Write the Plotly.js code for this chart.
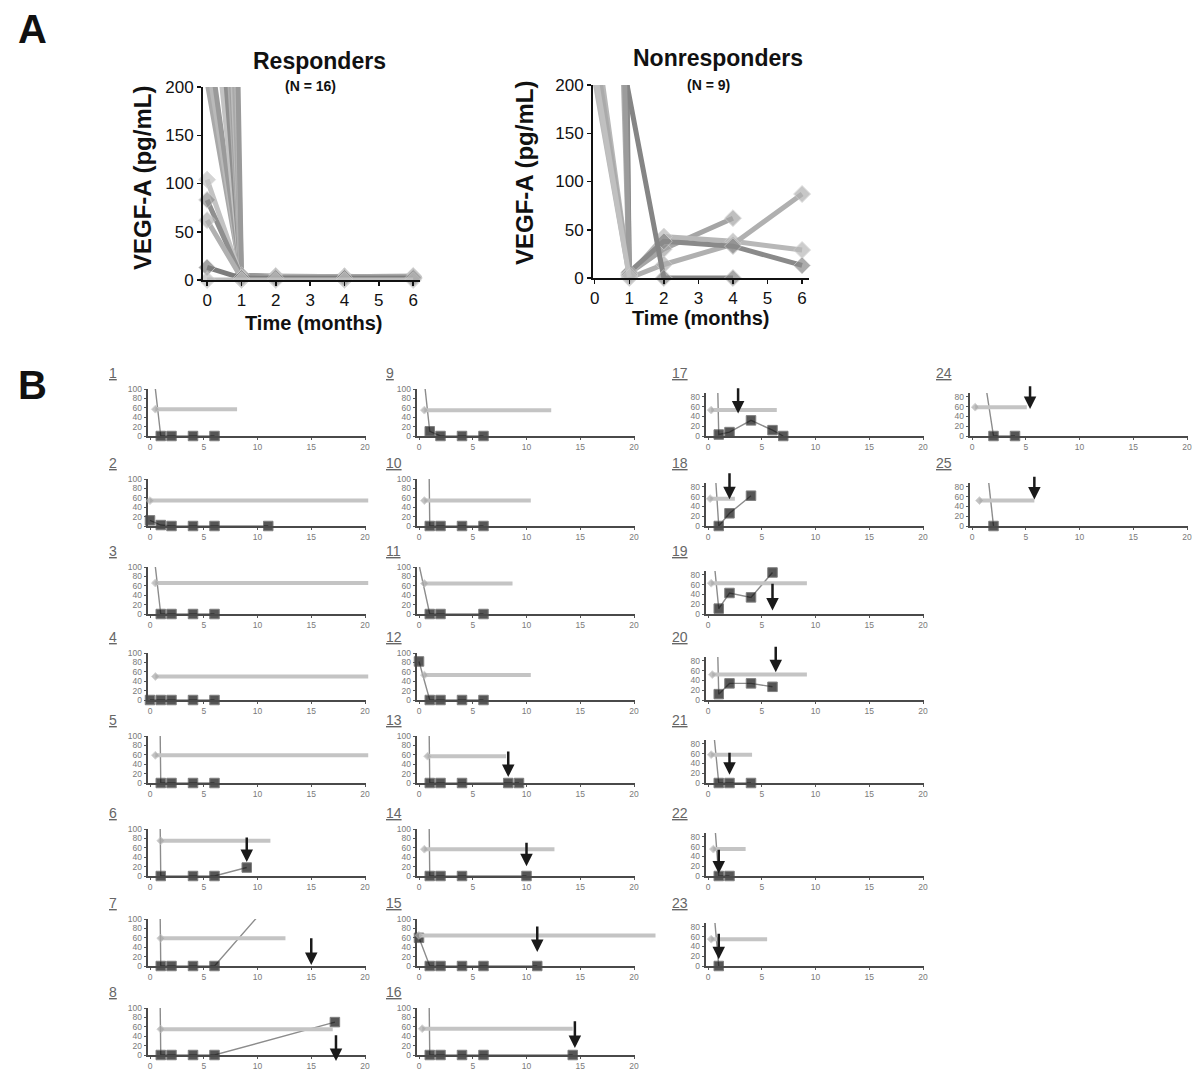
<!DOCTYPE html>
<html><head><meta charset="utf-8">
<script src="https://cdn.plot.ly/plotly-3.0.1.min.js"></script>
<style>html,body{margin:0;padding:0;background:#fff;}</style>
</head><body>
<div id="chart" style="width:1193px;height:1072px;"></div>
<script>
// ---------------- DATA ----------------
// Panel A – VEGF-A (pg/mL) over time (months)
const monthsA = [0, 1, 2, 4, 6];
const responderVEGF = [
  [205, 3, 2, 2, 3],
  [230, 4, 3, 3, 2],
  [260, 5, 3, 3, 4],
  [350, 4, 2, 3, 3],
  [450, 3, 2, 3, 3],
  [600, 2, 3, 2, 2],
  [700, 3, 3, 2, 2],
  [800, 4, 4, 3, 3],
  [1000, 3, 2, 4, 2],
  [1500, 2, 3, 3, 4],
  [2000, 5, 4, 3, 3],
  [104, 2, 3, 3, 2],
  [83, 3, 2, 2, 3],
  [62, 2, 3, 3, 3],
  [13, 2, 2, 2, 2],
  [0, 0, 0, 0, 0]
];
const nonresponderMonths = [
  [0, 1, 2, 4],
  [0, 1, 2, 4, 6],
  [0, 1, 2, 4, 6],
  [0, 1, 2, 4, 6],
  [0, 2, 4],
  [0, 1],
  [0, 1],
  [0, 1],
  [0, 1]
];
const nonresponderVEGF = [
  [2500, 5, 30, 62],
  [260, 3, 43, 38, 29],
  [1200, 0, 14, 35, 87],
  [3000, 6, 38, 33, 13],
  [376, 0, 0],
  [205, 2],
  [240, 4],
  [1500, 3],
  [215, 1]
];

// Panel B – individual patients
const patientIds = [1,2,3,4,5,6,7,8,9,10,11,12,13,14,15,16,17,18,19,20,21,22,23,24,25];
const patientTimes = [
  [0,1,2,4,6], [0,1,2,4,6,11], [0,1,2,4,6], [0,1,2,4,6], [0,1,2,4,6],
  [0,1,4,6,9], [0,1,2,4,6,12], [0,1,2,4,6,17.2],
  [0,1,2,4,6], [0,1,2,4,6], [0,1,2,6], [0,1,2,4,6], [0,1,2,4,8.3,9.3],
  [0,1,2,4,10], [0,1,2,4,6,11], [0,1,2,4,6,14.3],
  [0,1,2,4,6,7], [0,1,2,4], [0,1,2,4,6], [0,1,2,4,6], [0,1,2,4], [0,1,2], [0,1],
  [0,2,4], [0,2]
];
const patientVEGF = [
  [200,0,0,0,0], [12,2,0,0,0,0], [200,0,0,0,0], [0,0,0,0,0], [2000,0,0,0,0],
  [2000,0,0,0,18], [2000,0,0,0,0,157], [2000,0,0,0,0,70],
  [220,10,0,0,0], [2000,0,0,0,0], [105,0,0,0], [82,0,0,0,0], [2000,0,0,0,0,0],
  [2000,0,0,0,0], [60,0,0,0,0,0], [2000,0,0,0,0,0],
  [1000,3,8,32,12,0], [333,0,26,62], [233,11,43,34,85], [900,12,34,34,27], [222,0,0,0], [286,0,0], [250,0],
  [285,0,0], [400,0]
];
const treatStart = [0.5,0,0.5,0.5,0.5,1,1,1, 0.5,0.5,0.5,0.5,0.8,0.5,0,0.3, 0.3,0.2,0.3,0.4,0.3,0.5,0.3, 0.3,0.7];
const treatEnd   = [8.1,20.3,20.3,20.3,20.3,11.2,12.6,17, 12.3,10.4,8.7,10.4,8.1,12.6,22,14.3, 6.4,2.5,9.2,9.2,4.1,3.5,5.5, 5.1,5.8];
const treatLevel = [57,54,66,50,59,75,59,55, 55,54,65,53,57,57,65,56, 53,56,63,52,58,55,55, 59,52];
const progTime = [null,null,null,null,null,9,15,17.3, null,null,null,null,8.3,10,11,14.5, 2.8,2,6,6.3,2,1,1, 5.4,5.8];
const progTop  = [null,null,null,null,null,85,62,45, null,null,null,null,70,74,87,75, 101,111,65,112,65,57,69, 105,104];
const progTip  = [null,null,null,null,null,30,2,-13, null,null,null,null,13,21,30,15, 46,55,7,57,17,5,14, 55,54];

// ---------------- LAYOUT HELPERS ----------------
const W = 1193, H = 1072;
const FONT = 'Liberation Sans, Arial, Helvetica, sans-serif';
const fx = px => px / W;
const fy = py => 1 - py / H;

const traces = [];
const annotations = [];
const layout = {
  width: W, height: H,
  margin: {l: 0, r: 0, t: 0, b: 0},
  showlegend: false,
  paper_bgcolor: '#ffffff',
  plot_bgcolor: 'rgba(0,0,0,0)',
  font: {family: FONT, color: '#111'},
  annotations: annotations
};

function addText(text, px, py, size, opts) {
  annotations.push(Object.assign({
    text: text, xref: 'paper', yref: 'paper', x: fx(px), y: fy(py),
    xanchor: 'center', yanchor: 'middle', showarrow: false,
    font: {family: FONT, size: size, color: '#111'}
  }, opts || {}));
}

// ---------------- PANEL A ----------------
function axisA(domain, range, tickvals, anchor) {
  return {
    domain: domain, range: range, anchor: anchor, tickvals: tickvals,
    showline: true, linecolor: '#111', linewidth: 2,
    ticks: 'outside', ticklen: 4, tickwidth: 1.5, tickcolor: '#111',
    tickfont: {family: FONT, size: 17, color: '#111'},
    showgrid: false, zeroline: false, fixedrange: true
  };
}
layout.xaxis  = axisA([fx(203), fx(420)], [-0.12, 6.2], [0,1,2,3,4,5,6], 'y');
layout.yaxis  = axisA([fy(280), fy(87)], [0, 200], [0,50,100,150,200], 'x');
layout.xaxis2 = axisA([fx(593), fx(809)], [-0.05, 6.2], [0,1,2,3,4,5,6], 'y2');
layout.yaxis2 = axisA([fy(278), fy(85)], [0, 200], [0,50,100,150,200], 'x2');

const respColors = ['#a9a9a9','#b9b9b9','#9a9a9a','#c3c3c3','#8f8f8f','#b0b0b0','#a0a0a0','#bdbdbd'];
responderVEGF.forEach((vals, i) => {
  const c = i === responderVEGF.length - 2 ? '#7d7d7d' : respColors[i % respColors.length];
  traces.push({
    x: monthsA, y: vals, xaxis: 'x', yaxis: 'y', mode: 'lines+markers',
    line: {color: c, width: 5},
    marker: {symbol: 'diamond', size: vals.map(v => v <= 200 ? 13 : 0), color: c, line: {color: '#d0d0d0', width: 1}},
    cliponaxis: false, hoverinfo: 'skip'
  });
});
const nonColors = ['#a5a5a5','#b8b8b8','#b0b0b0','#8a8a8a','#858585','#bcbcbc','#aaaaaa','#9c9c9c','#c0c0c0'];
nonresponderVEGF.forEach((vals, i) => {
  const c = nonColors[i];
  traces.push({
    x: nonresponderMonths[i], y: vals, xaxis: 'x2', yaxis: 'y2', mode: 'lines+markers',
    line: {color: c, width: 5},
    marker: {symbol: 'diamond', size: vals.map(v => v <= 200 ? 13 : 0), color: c, line: {color: '#d0d0d0', width: 1}},
    cliponaxis: false, hoverinfo: 'skip'
  });
});

addText('<b>A</b>', 32, 29, 40);
addText('<b>B</b>', 32, 385, 40);
addText('<b>Responders</b>', 319, 61, 23);
addText('<b>(N = 16)</b>', 310, 86, 14);
addText('<b>Nonresponders</b>', 718, 58, 23);
addText('<b>(N = 9)</b>', 708, 85, 14);
addText('<b>Time (months)</b>', 313, 323, 20);
addText('<b>Time (months)</b>', 700, 318, 20);
addText('<b>VEGF-A (pg/mL)</b>', 142, 178, 24, {textangle: -90});
addText('<b>VEGF-A (pg/mL)</b>', 525, 173, 24, {textangle: -90});

// ---------------- PANEL B ----------------
const colX0 = [150, 419, 708, 972];      // pixel of t = 0 in each column
const colLabelX = [107, 384, 670, 934];
const colFirst = [1, 9, 17, 24];
const rowBase = [436, 526, 614, 700, 783, 876, 966, 1055];
const pxPerMonth = 10.75;
const colOf = id => id <= 8 ? 0 : id <= 16 ? 1 : id <= 23 ? 2 : 3;

patientIds.forEach((id, i) => {
  const col = colOf(id);
  const row = id - colFirst[col];
  const k = 3 + i, kb = 28 + i;
  const x0 = colX0[col], base = rowBase[row];
  const yMax = col < 2 ? 100 : 88;
  const hPx = col < 2 ? 47 : 43;
  const yTicks = col < 2 ? [0,20,40,60,80,100] : [0,20,40,60,80];
  const common = {
    showline: true, linecolor: '#4a4a4a', linewidth: 1.6,
    ticks: 'outside', ticklen: 2.5, tickwidth: 1, tickcolor: '#555',
    tickfont: {family: FONT, size: 8.5, color: '#7a7a7a'},
    showgrid: false, zeroline: false, fixedrange: true
  };
  layout['xaxis' + k] = Object.assign({}, common, {
    domain: [fx(x0 - 0.2 * pxPerMonth), fx(x0 + 20.1 * pxPerMonth)],
    range: [-0.2, 20.1], anchor: 'y' + k, tickvals: [0,5,10,15,20]
  });
  layout['yaxis' + k] = Object.assign({}, common, {
    domain: [fy(base), fy(base - hPx)],
    range: [0, yMax], anchor: 'x' + k, tickvals: yTicks
  });
  const ext = Math.min(23, (W - 1 - x0) / pxPerMonth);
  layout['xaxis' + kb] = {
    domain: [fx(x0 - 0.2 * pxPerMonth), fx(x0 + ext * pxPerMonth)],
    range: [-0.2, ext], anchor: 'y' + k, visible: false, fixedrange: true
  };

  // treatment bar
  traces.push({
    x: [treatStart[i], treatEnd[i]], y: [treatLevel[i], treatLevel[i]],
    xaxis: 'x' + kb, yaxis: 'y' + k, mode: 'lines+markers',
    line: {color: '#c4c4c4', width: 4},
    marker: {symbol: 'diamond', size: [6, 0], color: '#a8a8a8'},
    cliponaxis: false, hoverinfo: 'skip'
  });
  // VEGF series
  const vals = patientVEGF[i];
  traces.push({
    x: patientTimes[i], y: vals, xaxis: 'x' + k, yaxis: 'y' + k, mode: 'lines+markers',
    line: {color: '#8c8c8c', width: 1.4},
    marker: {symbol: 'square', size: vals.map(v => v <= yMax ? 9.5 : 0), color: '#101010', line: {color: '#4a4a4a', width: 1}},
    cliponaxis: false, hoverinfo: 'skip'
  });
  // progression arrow
  if (progTime[i] !== null) {
    annotations.push({
      text: '', x: progTime[i], y: progTip[i], ax: progTime[i], ay: progTop[i],
      xref: 'x' + k, yref: 'y' + k, axref: 'x' + k, ayref: 'y' + k,
      showarrow: true, arrowhead: 2, arrowsize: 1, arrowwidth: 2.5, arrowcolor: '#1a1a1a', standoff: 0
    });
  }
  // patient label
  addText('<u>' + id + '</u>', colLabelX[col], base - 63, 14, {xanchor: 'left', font: {family: FONT, size: 14, color: '#666'}});
});

Plotly.newPlot('chart', traces, layout, {displayModeBar: false, staticPlot: true});
</script>
</body></html>
